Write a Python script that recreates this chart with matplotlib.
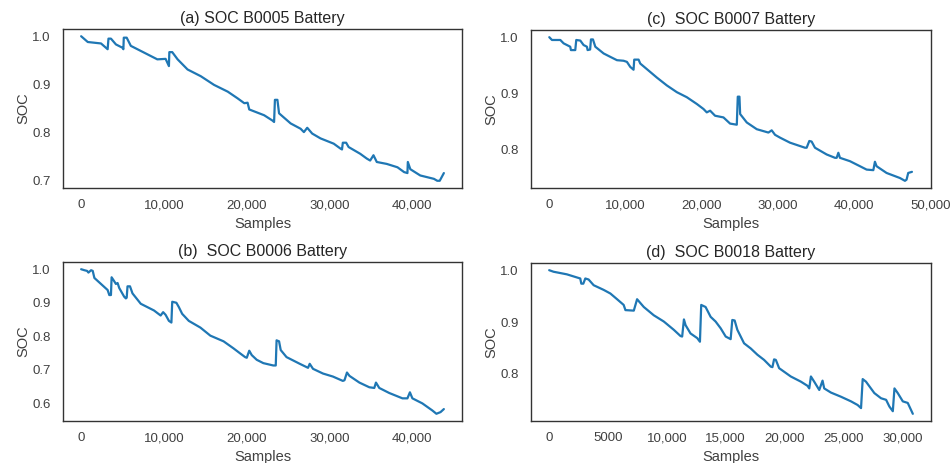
import matplotlib
matplotlib.use("Agg")
import matplotlib.pyplot as plt
from matplotlib.ticker import FuncFormatter, MultipleLocator
import seaborn as sns

# SOC curves (sample index, SOC)
b05_x = [0, 800, 2400, 3200, 3300, 3600, 4200, 5000, 5100, 5150, 5500, 6000, 7600, 9200, 10200,
         10600, 10650, 11000, 11650, 12850, 14450, 16050, 17700, 18900, 19700, 20100, 20300, 22100,
         23100, 23300, 23400, 23700, 23900, 25300, 26500, 26900, 27300, 27900, 28900, 30500, 31300,
         31500, 31600, 32000, 32300, 33700, 34500, 34900, 35300, 35700, 36900, 38200, 39000, 39400,
         39450, 39750, 40950, 42600, 43000, 43300, 43800]
b05_y = [1.0, 0.988, 0.985, 0.973, 0.995, 0.995, 0.983, 0.976, 0.973, 0.997, 0.997, 0.980, 0.966,
         0.952, 0.953, 0.938, 0.967, 0.967, 0.952, 0.931, 0.917, 0.899, 0.885, 0.871, 0.861, 0.862,
         0.848, 0.836, 0.825, 0.822, 0.868, 0.868, 0.840, 0.819, 0.808, 0.801, 0.810, 0.798, 0.788,
         0.777, 0.767, 0.765, 0.779, 0.779, 0.770, 0.756, 0.746, 0.742, 0.753, 0.739, 0.735, 0.728,
         0.718, 0.716, 0.739, 0.724, 0.711, 0.704, 0.700, 0.700, 0.716]

b06_x = [0, 400, 720, 880, 1200, 1400, 1600, 2400, 3200, 3400, 3600, 3680, 4000, 4200, 4400, 4600,
         5200, 5400, 5500, 5600, 5900, 6200, 7200, 8800, 9600, 9900, 10200, 10600, 10900, 11000,
         11500, 11800, 12200, 13000, 14400, 15600, 17200, 18400, 19200, 19800, 20000, 20300, 20600,
         21200, 22000, 23200, 23500, 23600, 23900, 24100, 24800, 26400, 27400, 27600, 28000, 29200,
         30400, 31600, 31800, 32100, 32400, 33600, 34800, 35400, 35600, 36000, 37200, 38800, 39400,
         39700, 40000, 41200, 42400, 42900, 43400, 43800]
b06_y = [1.0, 0.997, 0.995, 0.990, 0.997, 0.995, 0.974, 0.956, 0.938, 0.923, 0.923, 0.976, 0.964,
         0.956, 0.959, 0.944, 0.918, 0.913, 0.915, 0.949, 0.949, 0.928, 0.897, 0.877, 0.862, 0.872,
         0.864, 0.846, 0.841, 0.903, 0.900, 0.887, 0.867, 0.846, 0.826, 0.802, 0.785, 0.764, 0.749,
         0.738, 0.736, 0.757, 0.744, 0.730, 0.720, 0.713, 0.713, 0.788, 0.785, 0.759, 0.738, 0.718,
         0.706, 0.718, 0.703, 0.689, 0.680, 0.667, 0.669, 0.692, 0.682, 0.662, 0.648, 0.646, 0.662,
         0.646, 0.631, 0.615, 0.615, 0.633, 0.615, 0.600, 0.579, 0.569, 0.574, 0.583]

b07_x = [0, 350, 1450, 1880, 2750, 2840, 3410, 3540, 4070, 4500, 4940, 5030, 5360, 5470, 5730,
         6040, 7130, 8000, 8880, 9750, 10190, 10630, 11060, 11150, 11720, 11940, 13250, 14120,
         15430, 16740, 18050, 19360, 20240, 20670, 21110, 21760, 22860, 23730, 24610, 24740, 24960,
         25050, 25920, 27230, 28760, 29190, 29630, 30280, 31590, 32900, 33560, 33780, 34130, 34430,
         34870, 36400, 37500, 37720, 37940, 38150, 39460, 40780, 41650, 42530, 42740, 42960, 44270,
         46020, 46680, 46890, 47110, 47600]
b07_y = [1.0, 0.995, 0.995, 0.989, 0.983, 0.977, 0.977, 0.995, 0.994, 0.986, 0.983, 0.977, 0.978,
         0.996, 0.996, 0.983, 0.971, 0.965, 0.959, 0.958, 0.956, 0.947, 0.942, 0.960, 0.960, 0.953,
         0.938, 0.928, 0.914, 0.902, 0.893, 0.881, 0.872, 0.866, 0.869, 0.860, 0.857, 0.846, 0.844,
         0.894, 0.894, 0.863, 0.848, 0.836, 0.830, 0.834, 0.826, 0.821, 0.812, 0.806, 0.803, 0.803,
         0.815, 0.814, 0.803, 0.791, 0.785, 0.785, 0.794, 0.785, 0.779, 0.770, 0.764, 0.763, 0.778,
         0.770, 0.758, 0.749, 0.744, 0.746, 0.758, 0.760]

b18_x = [0, 370, 1500, 2070, 2640, 2730, 2900, 3070, 3350, 3780, 4630, 5200, 5770, 6330, 6480,
         7190, 7470, 8040, 8890, 9740, 10590, 11160, 11300, 11450, 11590, 12010, 12580, 12810,
         12920, 13290, 13720, 14140, 14570, 15000, 15420, 15560, 15760, 15990, 16560, 17130, 17690,
         18260, 18830, 18970, 19110, 19260, 19540, 20530, 21390, 21950, 22100, 22240, 22520, 22950,
         23230, 23370, 23940, 24790, 25650, 26210, 26500, 26640, 26920, 27630, 28200, 28630, 28910,
         29200, 29340, 29620, 30050, 30470, 30900]
b18_y = [1.0, 0.997, 0.992, 0.988, 0.984, 0.974, 0.974, 0.984, 0.982, 0.971, 0.962, 0.955, 0.944,
         0.933, 0.923, 0.922, 0.944, 0.929, 0.913, 0.901, 0.885, 0.873, 0.872, 0.905, 0.894, 0.878,
         0.869, 0.862, 0.933, 0.929, 0.910, 0.901, 0.888, 0.872, 0.867, 0.904, 0.903, 0.885, 0.859,
         0.849, 0.837, 0.827, 0.814, 0.813, 0.828, 0.827, 0.811, 0.795, 0.785, 0.777, 0.772, 0.795,
         0.785, 0.769, 0.787, 0.772, 0.764, 0.756, 0.747, 0.740, 0.734, 0.790, 0.785, 0.763, 0.753,
         0.750, 0.737, 0.728, 0.772, 0.763, 0.747, 0.744, 0.723]

titles = ["(a) SOC B0005 Battery", "(b)  SOC B0006 Battery",
          "(c)  SOC B0007 Battery", "(d)  SOC B0018 Battery"]

sns.set_style("white")
plt.rcParams['font.family'] = ['Liberation Sans', 'DejaVu Sans']

def fmt(v, pos):
    if abs(v) >= 10000:
        return "{:,.0f}".format(v)
    return "{:.0f}".format(v)

fig = plt.figure(figsize=(9.51, 4.63), dpi=100)
W, H = 951.0, 463.0
boxes = [(63, 29, 462, 188), (63, 262, 462, 421), (531, 30, 931, 188), (531, 263, 931, 421)]
data = [(b05_x, b05_y), (b06_x, b06_y), (b07_x, b07_y), (b18_x, b18_y)]

for i, ((l, t, r, b), (xs, ys), title) in enumerate(zip(boxes, data, titles)):
    ax = fig.add_axes([l / W, 1 - b / H, (r - l) / W, (b - t) / H])
    ax.plot(xs, ys, color='#1f77b4', lw=1.6)
    ax.set_title(title, fontsize=11.5, color='#262626', pad=4)
    ax.set_xlabel("Samples", fontsize=10.5, color='#404040', labelpad=4)
    ax.set_ylabel("SOC", fontsize=10.5, color='#404040', labelpad=1)
    ax.xaxis.set_major_formatter(FuncFormatter(fmt))
    ax.yaxis.set_major_locator(MultipleLocator(0.1))
    if i == 2:
        ax.set_xlim(-2400, 50100)
    ax.tick_params(axis='x', labelsize=9.5, colors='#404040', length=0, pad=8)
    ax.tick_params(axis='y', labelsize=9.5, colors='#404040', length=0, pad=9)
    for s in ax.spines.values():
        s.set_color('#333333')
        s.set_linewidth(1.0)

fig.savefig("out.png", dpi=100)
